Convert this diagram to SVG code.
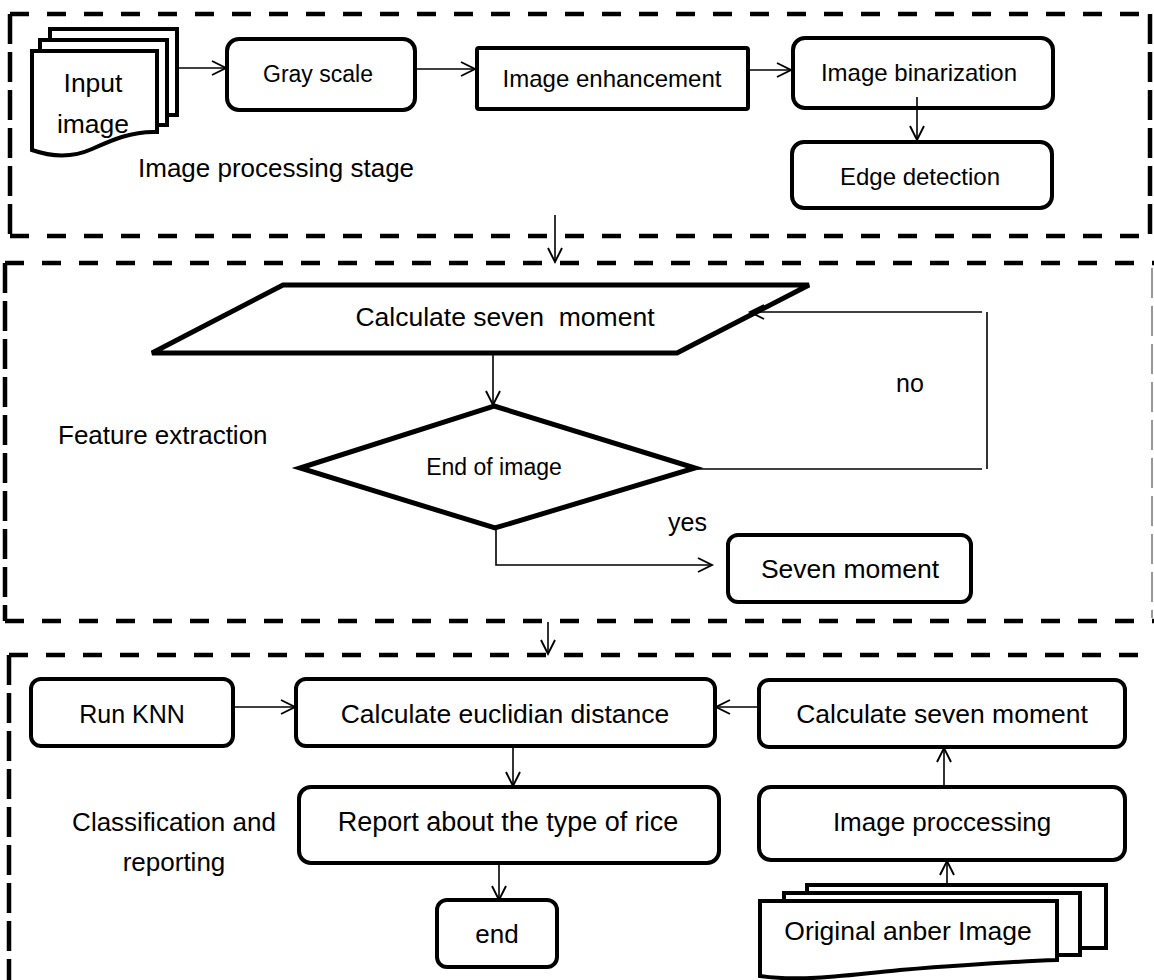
<svg xmlns="http://www.w3.org/2000/svg" width="1154" height="980" viewBox="0 0 1154 980">
<style>
text{font-family:"Liberation Sans",Arial,sans-serif;fill:#000;white-space:pre}
.c{text-anchor:middle}
.box{fill:#fff;stroke:#000;stroke-width:4}
.shape{fill:#fff;stroke:#000;stroke-width:5;stroke-linejoin:miter}
.doc{fill:#fff;stroke:#000;stroke-width:4;stroke-linejoin:miter}
.conn{fill:none;stroke:#000;stroke-width:1.6}
.hd{fill:none;stroke:#000;stroke-width:4.5;stroke-dasharray:19 18}
.vd{fill:none;stroke:#000;stroke-width:4.5;stroke-dasharray:30 8}
.thin{fill:none;stroke:#777;stroke-width:1.5;stroke-dasharray:30 8}
.s23{font-size:23px}.s24{font-size:24px}.s25{font-size:25px}.s26{font-size:26px}.s265{font-size:26.5px}.s27{font-size:27px}
</style>
<defs>
<marker id="arr" markerUnits="userSpaceOnUse" markerWidth="18" markerHeight="18" refX="15" refY="8" orient="auto">
<path d="M1,1 L15,8 L1,15" fill="none" stroke="#000" stroke-width="1.9"/>
</marker>
</defs>

<g id="stage-frames">
<line class="hd" x1="10" y1="14" x2="1150" y2="14"/>
<line class="hd" x1="10" y1="236" x2="1150" y2="236"/>
<line class="vd" x1="10" y1="14" x2="10" y2="236"/>
<line class="vd" x1="1150" y1="14" x2="1150" y2="236"/>
<line class="hd" x1="5" y1="263" x2="1154" y2="263"/>
<line class="hd" x1="5" y1="621" x2="1154" y2="621"/>
<line class="vd" x1="5" y1="263" x2="5" y2="621"/>
<line class="thin" x1="1152" y1="268" x2="1152" y2="618"/>
<line class="hd" x1="9" y1="655" x2="1154" y2="655"/>
<line class="vd" x1="9" y1="655" x2="9" y2="980"/>
</g>

<g id="input-image">
<rect class="doc" x="50" y="29" width="127" height="86"/>
<rect class="doc" x="40" y="40" width="127" height="85"/>
<path class="doc" d="M32,51 H157 V132 C132,131 112,140 92,149 C72,158 52,157 32,150 Z"/>
<text class="c s265" x="93" y="92">Input</text>
<text class="c s265" x="93" y="133">image</text>
</g>
<g id="label-image-processing"><text class="s26" x="138" y="177">Image processing stage</text></g>
<g id="gray-scale">
<rect class="box" x="227" y="39" width="188" height="71" rx="12"/>
<text class="c s23" x="318" y="82">Gray scale</text>
</g>
<g id="image-enhancement">
<rect class="box" x="477" y="48" width="271" height="61" rx="2"/>
<text class="c s24" x="612" y="87">Image enhancement</text>
</g>
<g id="image-binarization">
<rect class="box" x="793" y="38" width="260" height="70" rx="12"/>
<text class="c s24" x="919" y="81">Image binarization</text>
</g>
<g id="edge-detection">
<rect class="box" x="792" y="142" width="260" height="66" rx="12"/>
<text class="c s24" x="920" y="185">Edge detection</text>
</g>

<g id="calc-seven-moment-1">
<polygon class="shape" points="283,285 809,285 677,353 152,353"/>
<text class="c s265" x="505" y="326">Calculate seven  moment</text>
</g>
<g id="label-feature-extraction"><text class="s26" x="58" y="444">Feature extraction</text></g>
<g id="end-of-image">
<polygon class="shape" points="494,406 695,468 495,528 300,468"/>
<text class="c s23" x="494" y="475">End of image</text>
</g>
<g id="label-no"><text class="s25" x="896" y="392">no</text></g>
<g id="label-yes"><text class="s25" x="668" y="531">yes</text></g>
<g id="seven-moment">
<rect class="box" x="728" y="535" width="243" height="67" rx="10"/>
<text class="c s265" x="850" y="578">Seven moment</text>
</g>

<g id="run-knn">
<rect class="box" x="31" y="679" width="202" height="67" rx="10"/>
<text class="c s25" x="132" y="723">Run KNN</text>
</g>
<g id="calc-euclidian">
<rect class="box" x="296" y="679" width="419" height="67" rx="10"/>
<text class="c s265" x="505" y="723">Calculate euclidian distance</text>
</g>
<g id="calc-seven-moment-2">
<rect class="box" x="759" y="680" width="366" height="67" rx="10"/>
<text class="c s265" x="942" y="723">Calculate seven moment</text>
</g>
<g id="label-classification">
<text class="c s26" x="174" y="831">Classification and</text>
<text class="c s26" x="174" y="871">reporting</text>
</g>
<g id="report">
<rect class="box" x="299" y="787" width="420" height="76" rx="12"/>
<text class="c s27" x="508" y="831">Report about the type of rice</text>
</g>
<g id="image-proccessing">
<rect class="box" x="759" y="787" width="366" height="73" rx="12"/>
<text class="c s26" x="942" y="831">Image proccessing</text>
</g>
<g id="end">
<rect class="box" x="437" y="900" width="120" height="67" rx="10"/>
<text class="c s26" x="497" y="943">end</text>
</g>
<g id="original-image">
<rect class="doc" x="807" y="885" width="299" height="63"/>
<rect class="doc" x="784" y="893" width="296" height="62"/>
<path class="doc" d="M760,901 H1057 V960 C1000,962 950,966 900,970 C850,975 800,982 760,976 Z"/>
<text class="c s265" x="908" y="940">Original anber Image</text>
</g>

<g id="connectors">
<line class="conn" x1="177" y1="68" x2="226" y2="68" marker-end="url(#arr)"/>
<line class="conn" x1="415" y1="69" x2="475" y2="69" marker-end="url(#arr)"/>
<line class="conn" x1="748" y1="70" x2="791" y2="70" marker-end="url(#arr)"/>
<line class="conn" x1="917" y1="97" x2="917" y2="140" marker-end="url(#arr)"/>
<line class="conn" x1="555" y1="215" x2="555" y2="262" marker-end="url(#arr)"/>
<line class="conn" x1="493" y1="353" x2="493" y2="405" marker-end="url(#arr)"/>
<polyline class="conn" points="695,469 982,469"/>
<line class="conn" x1="987" y1="312" x2="987" y2="469"/>
<line class="conn" x1="982" y1="312" x2="750" y2="312" marker-end="url(#arr)"/>
<polyline class="conn" points="496,528 496,565 712,565" marker-end="url(#arr)"/>
<line class="conn" x1="548" y1="622" x2="548" y2="654" marker-end="url(#arr)"/>
<line class="conn" x1="233" y1="707" x2="295" y2="707" marker-end="url(#arr)"/>
<line class="conn" x1="759" y1="707" x2="716" y2="707" marker-end="url(#arr)"/>
<line class="conn" x1="513" y1="746" x2="513" y2="786" marker-end="url(#arr)"/>
<line class="conn" x1="499" y1="863" x2="499" y2="900" marker-end="url(#arr)"/>
<line class="conn" x1="944" y1="787" x2="944" y2="748" marker-end="url(#arr)"/>
<line class="conn" x1="947" y1="885" x2="947" y2="861" marker-end="url(#arr)"/>
</g>
</svg>
